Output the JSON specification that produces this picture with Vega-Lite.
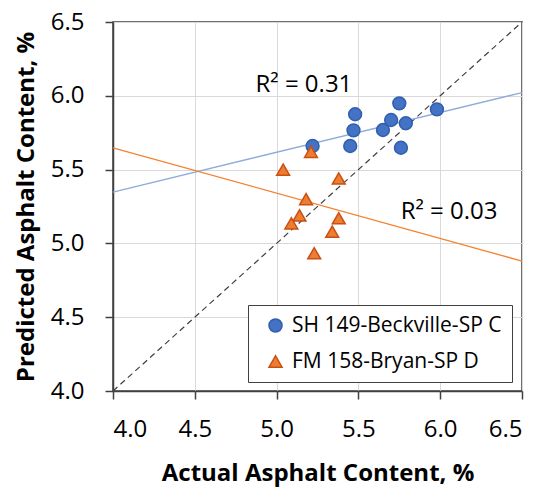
{
  "$schema": "https://vega.github.io/schema/vega-lite/v6.json",
  "width": 409,
  "height": 369,
  "autosize": "none",
  "padding": {"left": 113, "top": 22, "right": 21, "bottom": 96},
  "background": "white",
  "config": {
    "font": "Open Sans",
    "view": {"stroke": "#404040", "strokeWidth": 1.5},
    "axis": {
      "labelFontSize": 24,
      "labelColor": "black",
      "titleFontSize": 24,
      "titleFontWeight": "bold",
      "titleColor": "black",
      "domainColor": "#404040",
      "domainWidth": 1.5,
      "tickColor": "#404040",
      "tickSize": 8,
      "tickWidth": 1.5,
      "gridColor": "#D9D9D9",
      "gridWidth": 1
    }
  },
  "datasets": {
    "points": [
      {"series": "SH 149-Beckville-SP C", "x": 5.22, "y": 5.66},
      {"series": "SH 149-Beckville-SP C", "x": 5.48, "y": 5.875},
      {"series": "SH 149-Beckville-SP C", "x": 5.47, "y": 5.766},
      {"series": "SH 149-Beckville-SP C", "x": 5.45, "y": 5.66},
      {"series": "SH 149-Beckville-SP C", "x": 5.65, "y": 5.768},
      {"series": "SH 149-Beckville-SP C", "x": 5.70, "y": 5.836},
      {"series": "SH 149-Beckville-SP C", "x": 5.75, "y": 5.949},
      {"series": "SH 149-Beckville-SP C", "x": 5.79, "y": 5.814},
      {"series": "SH 149-Beckville-SP C", "x": 5.76, "y": 5.648},
      {"series": "SH 149-Beckville-SP C", "x": 5.98, "y": 5.908},
      {"series": "FM 158-Bryan-SP D", "x": 5.21, "y": 5.62},
      {"series": "FM 158-Bryan-SP D", "x": 5.04, "y": 5.50},
      {"series": "FM 158-Bryan-SP D", "x": 5.38, "y": 5.44},
      {"series": "FM 158-Bryan-SP D", "x": 5.18, "y": 5.30},
      {"series": "FM 158-Bryan-SP D", "x": 5.14, "y": 5.19},
      {"series": "FM 158-Bryan-SP D", "x": 5.09, "y": 5.136},
      {"series": "FM 158-Bryan-SP D", "x": 5.38, "y": 5.17},
      {"series": "FM 158-Bryan-SP D", "x": 5.34, "y": 5.08},
      {"series": "FM 158-Bryan-SP D", "x": 5.23, "y": 4.933}
    ],
    "identity": [
      {"x": 4.0, "y": 4.0},
      {"x": 6.5, "y": 6.5}
    ],
    "trends": [
      {"series": "SH 149-Beckville-SP C", "x": 4.0, "y": 5.348},
      {"series": "SH 149-Beckville-SP C", "x": 6.5, "y": 6.022},
      {"series": "FM 158-Bryan-SP D", "x": 4.0, "y": 5.648},
      {"series": "FM 158-Bryan-SP D", "x": 6.5, "y": 4.88}
    ],
    "labels": [
      {"x": 5.167, "y": 6.073, "label": "R² = 0.31"},
      {"x": 6.054, "y": 5.215, "label": "R² = 0.03"}
    ]
  },
  "layer": [
    {
      "data": {"name": "identity"},
      "mark": {"type": "line", "color": "#404040", "strokeWidth": 1.2, "strokeDash": [6, 4]},
      "encoding": {
        "x": {
          "field": "x", "type": "quantitative",
          "scale": {"domain": [4, 6.5], "nice": false, "zero": false},
          "axis": {
            "title": "Actual Asphalt Content, %",
            "values": [4, 4.5, 5, 5.5, 6, 6.5],
            "format": ".1f",
            "labelPadding": 18,
            "titlePadding": 20
          }
        },
        "y": {
          "field": "y", "type": "quantitative",
          "scale": {"domain": [4, 6.5], "nice": false, "zero": false},
          "axis": {
            "title": "Predicted Asphalt Content, %",
            "values": [4, 4.5, 5, 5.5, 6, 6.5],
            "format": ".1f",
            "labelPadding": 21,
            "titlePadding": 12
          }
        }
      }
    },
    {
      "data": {"name": "trends"},
      "mark": {"type": "line", "strokeWidth": 1.3},
      "encoding": {
        "x": {"field": "x", "type": "quantitative"},
        "y": {"field": "y", "type": "quantitative"},
        "detail": {"field": "series"},
        "color": {
          "field": "series", "type": "nominal",
          "scale": {"domain": ["SH 149-Beckville-SP C", "FM 158-Bryan-SP D"], "range": ["#8FAADC", "#F4822F"]},
          "legend": null
        }
      }
    },
    {
      "data": {"name": "points"},
      "mark": {"type": "point", "filled": true, "opacity": 1, "strokeWidth": 1.5, "size": 165},
      "encoding": {
        "x": {"field": "x", "type": "quantitative"},
        "y": {"field": "y", "type": "quantitative"},
        "fill": {
          "field": "series", "type": "nominal",
          "scale": {"domain": ["SH 149-Beckville-SP C", "FM 158-Bryan-SP D"], "range": ["#4472C4", "#ED7D31"]},
          "legend": {
            "title": null,
            "orient": "none",
            "legendX": 135,
            "legendY": 283,
            "padding": 10,
            "symbolOffset": 7,
            "labelOffset": 6,
            "labelFontSize": 21,
            "labelColor": "black",
            "labelLimit": 400,
            "rowPadding": 14,
            "symbolSize": 170,
            "symbolStrokeWidth": 1.5,
            "strokeColor": "#404040",
            "fillColor": "white"
          }
        },
        "stroke": {
          "field": "series", "type": "nominal",
          "scale": {"domain": ["SH 149-Beckville-SP C", "FM 158-Bryan-SP D"], "range": ["#2F5FAF", "#C94F12"]}
        },
        "shape": {
          "field": "series", "type": "nominal",
          "scale": {"domain": ["SH 149-Beckville-SP C", "FM 158-Bryan-SP D"], "range": ["circle", "triangle-up"]}
        }
      }
    },
    {
      "data": {"name": "labels"},
      "mark": {"type": "text", "fontSize": 24, "align": "center", "baseline": "middle", "color": "black"},
      "encoding": {
        "x": {"field": "x", "type": "quantitative"},
        "y": {"field": "y", "type": "quantitative"},
        "text": {"field": "label", "type": "nominal"}
      }
    }
  ],
  "resolve": {"scale": {"color": "independent"}}
}
